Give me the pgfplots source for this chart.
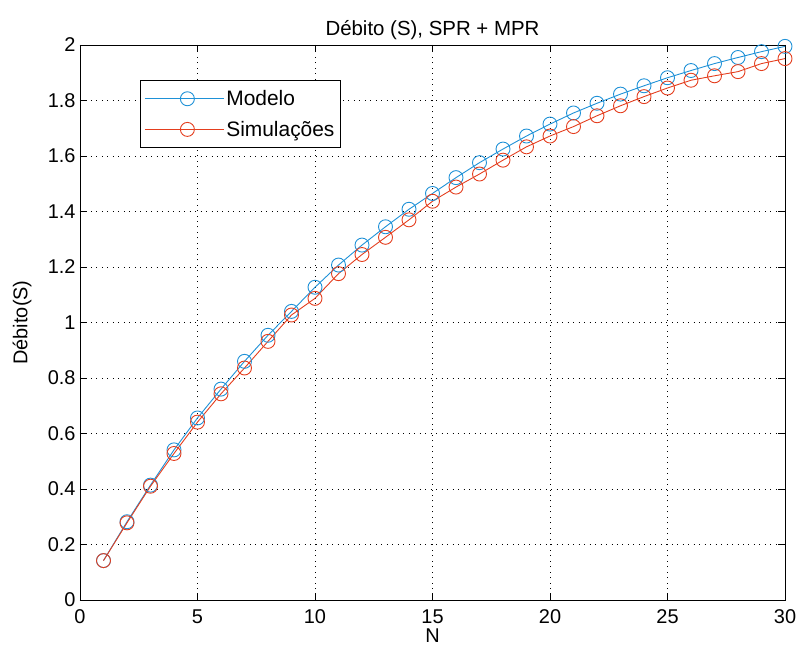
\documentclass[border=0pt]{standalone}
\usepackage{pgfplots}
\pgfplotsset{compat=1.18}
\usepackage{fontspec}
\setmainfont{Liberation Sans}
\definecolor{mblue}{RGB}{30,145,215}
\definecolor{mred}{RGB}{228,62,30}
\begin{document}
\begin{tikzpicture}[x=1bp,y=1bp]
\begin{axis}[
    scale only axis,
    width=705bp, height=555bp,
    xmin=0, xmax=30, ymin=0, ymax=2,
    xtick={0,5,...,30},
    ytick={0,0.2,...,2},
    yticklabels={0,0.2,0.4,0.6,0.8,1,1.2,1.4,1.6,1.8,2},
    tick align=inside,
    major tick length=7bp,
    xtick pos=both, ytick pos=both,
    grid=major,
    major grid style={black, line width=0.6pt, dash pattern=on 0.9pt off 4.6pt},
    axis line style={black, line width=0.9pt},
    tick style={black, line width=0.9pt},
    tick label style={font=\fontsize{20}{24}\selectfont},
    xticklabel style={anchor=north, yshift=-6bp},
    yticklabel style={xshift=-1bp},
    label style={font=\fontsize{20}{24}\selectfont},
    /pgf/number format/assume math mode=true,
    title={Débito (S), SPR + MPR},
    title style={font=\fontsize{20.5}{24}\selectfont, yshift=-4bp},
    xlabel={N},
    ylabel={Débito(S)},
    xlabel style={at={(axis description cs:0.5,0)}, anchor=center, yshift=-36bp},
    ylabel style={at={(axis description cs:-0.082,0.5)}, anchor=center},
    legend style={at={(60bp,520bp)}, anchor=north west, draw=black, line width=0.9pt,
        font=\fontsize{21}{25}\selectfont, row sep=10bp, inner xsep=4bp, inner ysep=8bp},
    legend cell align=left,
    legend image code/.code={
        \path (0bp,0bp) -- (79bp,0bp);
        \draw[#1, line width=1pt] (10bp,0bp) -- (75bp,0bp);
        \draw[#1, mark repeat=1, only marks] plot coordinates {(42.5bp,0bp)};
    },
]
\addplot[mblue, line width=0.9pt, mark=o, mark size=7bp, mark options={line width=0.9pt}] coordinates {
(1,0.142) (2,0.282) (3,0.414) (4,0.541) (5,0.656) (6,0.760) (7,0.860) (8,0.954)
(9,1.040) (10,1.127) (11,1.207) (12,1.279) (13,1.345) (14,1.408) (15,1.465)
(16,1.522) (17,1.576) (18,1.625) (19,1.672) (20,1.715) (21,1.755) (22,1.790)
(23,1.823) (24,1.853) (25,1.882) (26,1.908) (27,1.933) (28,1.955) (29,1.976) (30,1.995)
};
\addlegendentry{Modelo}
\addplot[mred, line width=0.9pt, mark=o, mark size=7bp, mark options={line width=0.9pt}] coordinates {
(1,0.142) (2,0.278) (3,0.410) (4,0.528) (5,0.641) (6,0.743) (7,0.836) (8,0.932)
(9,1.027) (10,1.087) (11,1.176) (12,1.245) (13,1.307) (14,1.370) (15,1.437)
(16,1.488) (17,1.535) (18,1.585) (19,1.633) (20,1.672) (21,1.706) (22,1.745)
(23,1.781) (24,1.814) (25,1.845) (26,1.873) (27,1.889) (28,1.904) (29,1.933) (30,1.951)
};
\addlegendentry{Simulações}
\end{axis}
\pgfresetboundingbox
\path[use as bounding box] (-80bp,-53bp) rectangle (718bp,600bp);
\end{tikzpicture}
\end{document}
